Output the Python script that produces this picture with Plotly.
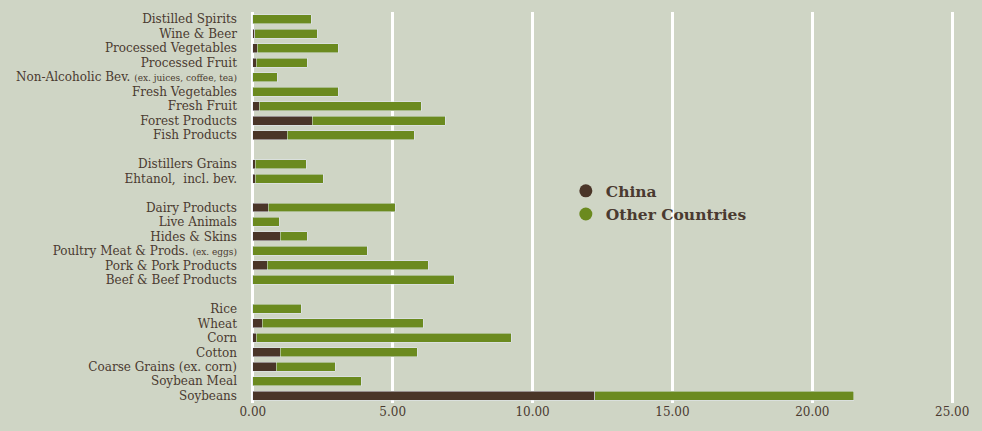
import plotly.graph_objects as go

GAP1, GAP2, GAP3 = "\u200b", "\u200b\u200b", "\u200b\u200b\u200b"
SMALL = '<span style="font-size:9px">{}</span>'

categories = [
    "Distilled Spirits", "Wine & Beer", "Processed Vegetables", "Processed Fruit",
    "Non-Alcoholic Bev. " + SMALL.format("(ex. juices, coffee, tea)"),
    "Fresh Vegetables", "Fresh Fruit", "Forest Products", "Fish Products",
    GAP1,
    "Distillers Grains", "Ehtanol,  incl. bev.",
    GAP2,
    "Dairy Products", "Live Animals", "Hides & Skins",
    "Poultry Meat & Prods. " + SMALL.format("(ex. eggs)"),
    "Pork & Pork Products", "Beef & Beef Products",
    GAP3,
    "Rice", "Wheat", "Corn", "Cotton", "Coarse Grains (ex. corn)",
    "Soybean Meal", "Soybeans",
]

china = [0.0, 0.07, 0.16, 0.12, 0.0, 0.0, 0.23, 2.12, 1.23,
         None,
         0.08, 0.08,
         None,
         0.55, 0.0, 0.98, 0.0, 0.52, 0.0,
         None,
         0.0, 0.34, 0.12, 0.98, 0.84, 0.0, 12.23]

other = [2.09, 2.23, 2.89, 1.83, 0.875, 3.05, 5.79, 4.76, 4.54,
         None,
         1.83, 2.44,
         None,
         4.54, 0.95, 0.97, 4.09, 5.75, 7.20,
         None,
         1.73, 5.75, 9.11, 4.90, 2.11, 3.88, 9.25]

x_ticks = [0, 5, 10, 15, 20, 25]
x_tick_labels = ["0.00", "5.00", "10.00", "15.00", "20.00", "25.00"]

BG = "#cfd5c5"
BROWN = "#4a3528"
GREEN = "#6b8a1f"
TEXT = "#4a3a30"
FONT = "DejaVu Serif"

fig = go.Figure()
fig.add_trace(go.Bar(y=categories, x=china, orientation="h", marker_color=BROWN,
                     name="China", showlegend=False))
fig.add_trace(go.Bar(y=categories, x=other, orientation="h", marker_color=GREEN,
                     name="Other Countries", showlegend=False))
fig.add_trace(go.Scatter(x=[None], y=[None], mode="markers", name="<b>China</b>",
                         marker=dict(color=BROWN, size=13, symbol="circle")))
fig.add_trace(go.Scatter(x=[None], y=[None], mode="markers", name="<b>Other Countries</b>",
                         marker=dict(color=GREEN, size=13, symbol="circle")))

fig.update_layout(
    width=982, height=431,
    paper_bgcolor=BG, plot_bgcolor=BG,
    margin=dict(l=249.5, r=26.9, t=12, b=28),
    barmode="stack", bargap=0.38,
    font=dict(family=FONT, color=TEXT, size=12),
    legend=dict(x=0.448, y=0.585, xanchor="left", yanchor="top",
                traceorder="normal",
                bgcolor="rgba(0,0,0,0)", font=dict(size=15.5, color=TEXT, family=FONT),
                itemwidth=30, tracegroupgap=0),
    xaxis=dict(range=[-0.1, 25.1], tickvals=x_ticks, ticktext=x_tick_labels,
               showgrid=True, gridcolor="white", gridwidth=2.5,
               zeroline=False, showline=False, ticks="",
               tickfont=dict(size=12, color=TEXT, family=FONT)),
    yaxis=dict(categoryorder="array", categoryarray=categories, autorange="reversed",
               showgrid=False, zeroline=False, showline=False, ticks="",
               ticklabelstandoff=12,
               tickfont=dict(size=12, color=TEXT, family=FONT)),
)

fig.write_html("out.html")
